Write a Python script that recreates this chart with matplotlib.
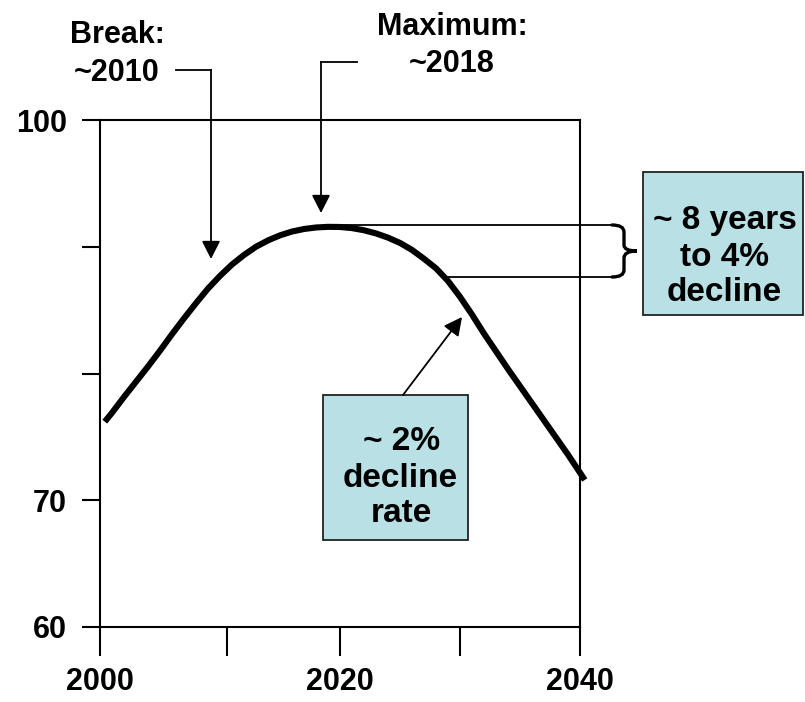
import matplotlib
matplotlib.use("Agg")
import matplotlib.pyplot as plt
from matplotlib.patches import Rectangle, PathPatch
from matplotlib.path import Path

plt.rcParams['font.family'] = ['Liberation Sans', 'DejaVu Sans']
plt.rcParams['font.weight'] = 'bold'

# ---- data ----
years = [2000.4, 2001, 2002, 2003, 2004, 2005, 2006, 2007, 2008, 2009, 2010,
         2011, 2012, 2013, 2014, 2015, 2016, 2017, 2018, 2019, 2020,
         2021, 2022, 2023, 2024, 2025, 2026, 2027, 2028, 2029, 2030,
         2031, 2032, 2033, 2034, 2035, 2036, 2037, 2038, 2039, 2040.4]
values = [76.2, 76.9, 78.15, 79.35, 80.55, 81.8, 83.1, 84.35, 85.55, 86.7, 87.7,
          88.6, 89.35, 90.0, 90.5, 90.9, 91.2, 91.4, 91.52, 91.57, 91.56,
          91.47, 91.3, 91.05, 90.72, 90.3, 89.75, 89.05, 88.3, 87.3, 86.05,
          84.65, 83.15, 81.75, 80.35, 79.0, 77.65, 76.3, 74.95, 73.6, 71.6]

xtick_pos = [2000, 2010.6, 2020, 2030, 2040]
xtick_labels = ['2000', '', '2020', '', '2040']
ytick_pos = [60, 70, 80, 90, 100]
ytick_labels = ['60', '70', '', '', '100']

W, H = 805, 702
fig = plt.figure(figsize=(W / 100, H / 100), dpi=100)
L, R, T, B = 100, 580, 120, 627
ax = fig.add_axes([L / W, 1 - B / H, (R - L) / W, (B - T) / H])
ax.plot(years, values, color='black', lw=4.4, solid_capstyle='butt',
        solid_joinstyle='round', clip_on=False, zorder=5)
ax.set_xlim(2000, 2040)
ax.set_ylim(60, 100)
for s in ax.spines.values():
    s.set_linewidth(1.5)
ax.set_xticks(xtick_pos)
ax.set_xticklabels(xtick_labels)
ax.set_yticks(ytick_pos)
ax.set_yticklabels(ytick_labels)
ax.tick_params(axis='x', direction='out', length=21, width=1.5, pad=8, labelsize=22)
ax.tick_params(axis='y', direction='out', length=13, width=1.5, pad=11, labelsize=22)
for t in ax.get_xticklabels() + ax.get_yticklabels():
    t.set_fontweight('bold')

# ---- overlay in pixel coordinates for annotations ----
ov = fig.add_axes([0, 0, 1, 1], zorder=10)
ov.set_xlim(0, W)
ov.set_ylim(H, 0)
ov.axis('off')
ov.patch.set_alpha(0)

akw = dict(arrowstyle='-|>,head_length=0.55,head_width=0.28', mutation_scale=20,
           color='black', lw=1.3, shrinkA=0, shrinkB=0)

def txt(x, y, s, size=22):
    ov.text(x, y, s, ha='center', va='baseline', fontsize=size, fontweight='bold')

# Break annotation
txt(117, 43, 'Break:')
txt(117, 81, '~2010')
ov.plot([176, 211], [70, 70], color='black', lw=1.3)
ov.annotate('', xy=(211, 259), xytext=(211, 70), arrowprops=akw)

# Maximum annotation
txt(452, 35, 'Maximum:')
txt(452, 72, '~2018')
ov.plot([357, 321], [62, 62], color='black', lw=1.3)
ov.annotate('', xy=(321, 213), xytext=(321, 62), arrowprops=akw)

# bracket lines
ov.plot([335, 612], [225, 225], color='black', lw=1.3)
ov.plot([445, 612], [277, 277], color='black', lw=1.3)
verts = [(612, 225), (624, 225), (624, 232), (624, 245), (624, 251), (637, 251),
         (624, 251), (624, 258), (624, 270), (624, 277), (612, 277)]
codes = [Path.MOVETO, Path.CURVE3, Path.CURVE3, Path.LINETO, Path.CURVE3, Path.CURVE3,
         Path.CURVE3, Path.CURVE3, Path.LINETO, Path.CURVE3, Path.CURVE3]
ov.add_patch(PathPatch(Path(verts, codes), fill=False, lw=2.4, edgecolor='black',
                       capstyle='round'))

box_fc = '#b9e0e4'
# box 1
ov.add_patch(Rectangle((643, 172), 160, 143, facecolor=box_fc, edgecolor='#222222', lw=1.3))
txt(725, 229, '~ 8 years', 24)
txt(724, 266, 'to 4%', 24)
txt(724, 301, 'decline', 24)

# box 2
ov.add_patch(Rectangle((323, 395), 145, 145, facecolor=box_fc, edgecolor='#222222', lw=1.3))
txt(402, 450, '~ 2%', 24)
txt(400, 487, 'decline', 24)
txt(401, 522, 'rate', 24)
ov.annotate('', xy=(462, 317), xytext=(403, 395), arrowprops=akw)

fig.savefig('out.png', dpi=100)
